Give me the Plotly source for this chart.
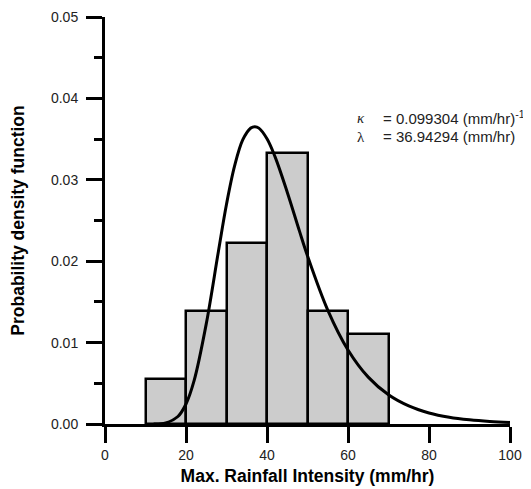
import plotly.graph_objects as go

# Histogram (bin centres, density)
bin_centers = [15, 25, 35, 45, 55, 65]
bin_density = [0.005556, 0.013889, 0.022222, 0.033333, 0.013889, 0.011111]

# Fitted PDF curve
curve_x = [12, 15, 18, 20, 22, 25, 28, 30, 32, 34, 36, 37, 38, 40, 42, 45, 48, 50,
           55, 60, 65, 70, 75, 80, 85, 90, 95, 100]
curve_y = [0.0, 0.00013, 0.00092, 0.00246, 0.00532, 0.0123, 0.0212, 0.0270, 0.0317,
           0.0349, 0.03637, 0.03653, 0.03635, 0.03504, 0.03282, 0.02848, 0.02373,
           0.02066, 0.0140, 0.0091, 0.00576, 0.00359, 0.00222, 0.00136, 0.00083,
           0.00051, 0.00031, 0.00019]

x_ticks = [0, 20, 40, 60, 80, 100]
y_ticks = [0.00, 0.01, 0.02, 0.03, 0.04, 0.05]
y_tick_labels = ["0.00", "0.01", "0.02", "0.03", "0.04", "0.05"]

fig = go.Figure()
fig.add_trace(go.Bar(
    x=bin_centers, y=bin_density, width=10,
    marker=dict(color="#cccccc", line=dict(color="black", width=2.5)),
    showlegend=False, hoverinfo="skip"))
fig.add_trace(go.Scatter(
    x=curve_x, y=curve_y, mode="lines",
    line=dict(color="black", width=3, shape="spline"),
    showlegend=False, hoverinfo="skip"))

axis_font = dict(family="Liberation Sans, Arial", size=14, color="#222")
fig.update_layout(
    width=523, height=481,
    margin=dict(l=97, r=21, t=9, b=65, autoexpand=False),
    plot_bgcolor="white", paper_bgcolor="white",
    bargap=0,
    xaxis=dict(range=[0, 100], tickvals=x_ticks, showline=True, linecolor="black",
               linewidth=3, ticks="outside", ticklen=16, tickwidth=3, tickcolor="black",
               showgrid=False, zeroline=False, tickfont=axis_font, automargin=False,
               title=dict(text="<b>Max. Rainfall Intensity (mm/hr)</b>",
                          font=dict(family="Liberation Sans, Arial", size=17.5, color="black"),
                          standoff=8)),
    yaxis=dict(range=[0, 0.05], tickvals=y_ticks, ticktext=y_tick_labels, showline=True,
               linecolor="black", linewidth=3, ticks="outside", ticklen=16, tickwidth=3,
               tickcolor="black", showgrid=False, zeroline=False, tickfont=axis_font,
               automargin=False, ticklabelstandoff=5,
               minor=dict(dtick=0.005, ticks="outside", ticklen=8, tickwidth=3,
                          tickcolor="black", showgrid=False),
               title=dict(text="<b>Probability density function</b>",
                          font=dict(family="Liberation Sans, Arial", size=17.5, color="black"),
                          standoff=22)),
)

sym_font = dict(family="Liberation Serif, Times New Roman", size=15, color="#222")
txt_font = dict(family="Liberation Sans, Arial", size=15, color="#222")
fig.add_annotation(x=61.7, y=0.0376, xref="x", yref="y", text="<i>κ</i>",
                   showarrow=False, xanchor="left", yanchor="middle", font=sym_font)
fig.add_annotation(x=68.1, y=0.0376, xref="x", yref="y",
                   text="= 0.099304 (mm/hr)<sup>-1</sup>",
                   showarrow=False, xanchor="left", yanchor="middle", font=txt_font)
fig.add_annotation(x=61.7, y=0.03526, xref="x", yref="y", text="λ",
                   showarrow=False, xanchor="left", yanchor="middle", font=sym_font)
fig.add_annotation(x=68.1, y=0.03526, xref="x", yref="y",
                   text="= 36.94294 (mm/hr)",
                   showarrow=False, xanchor="left", yanchor="middle", font=txt_font)

fig.write_html("out.html")
